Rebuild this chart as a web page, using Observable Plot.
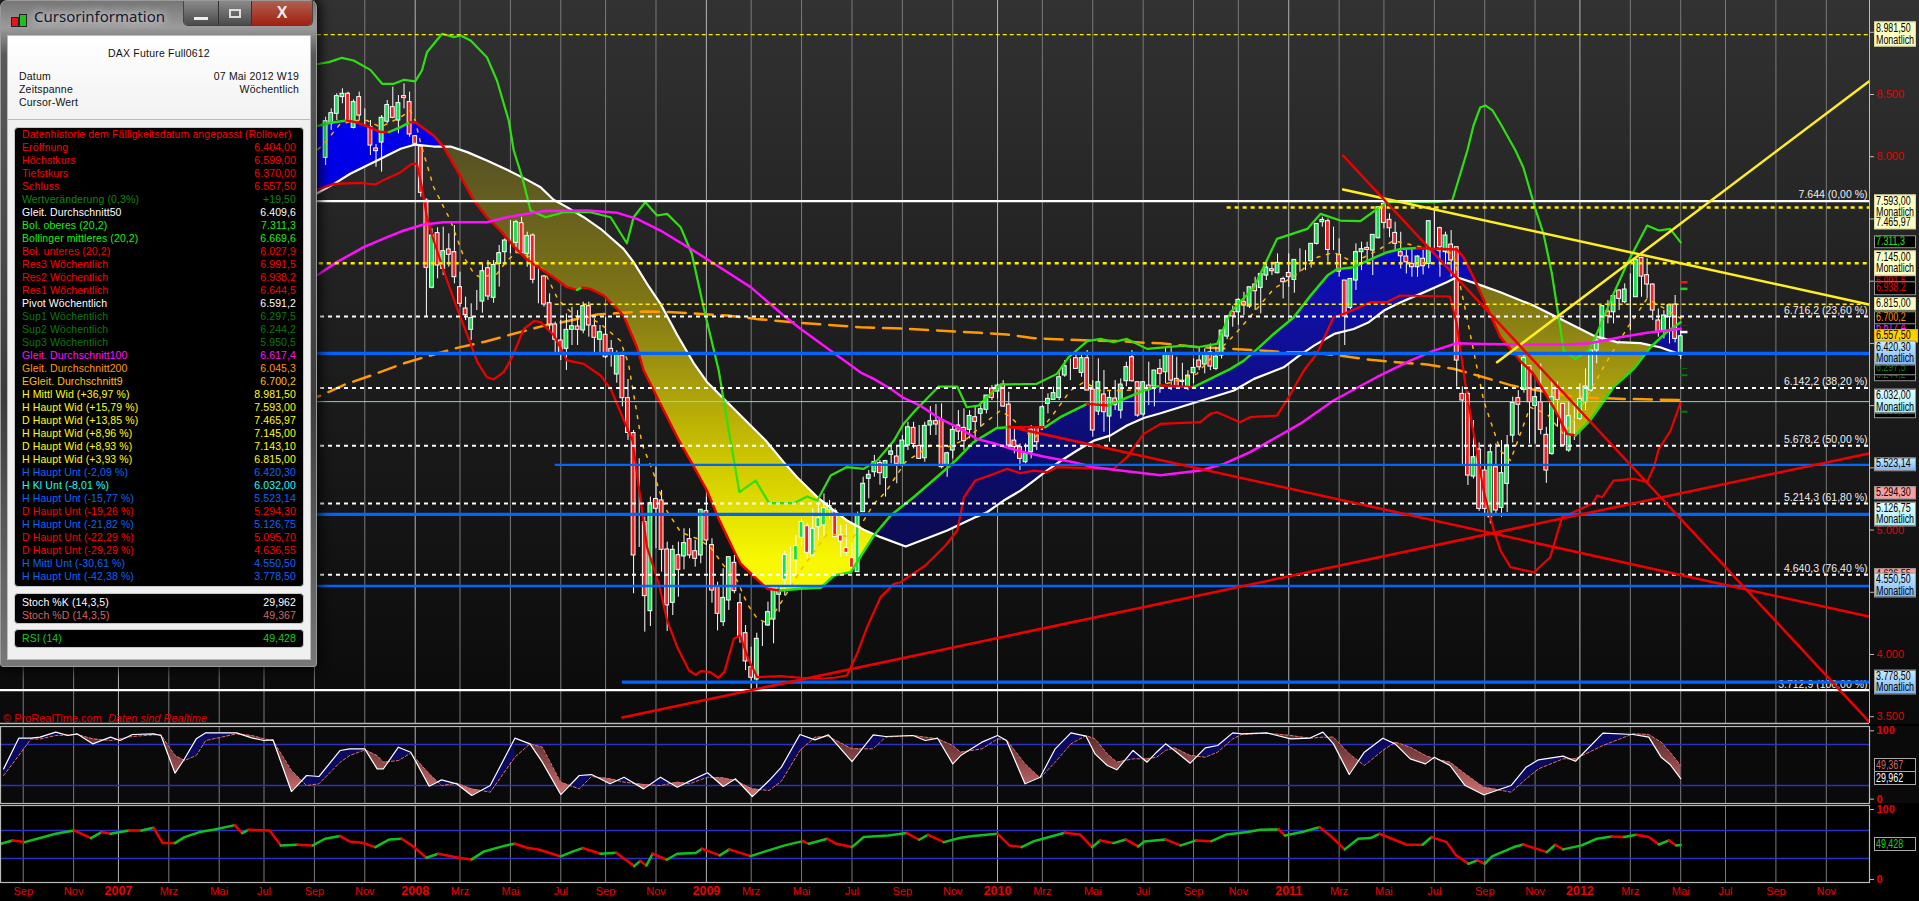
<!DOCTYPE html>
<html lang="de">
<head>
<meta charset="utf-8">
<title>DAX Future Full0612</title>
<script src="https://cdn.jsdelivr.net/npm/d3@7"></script>
<script src="https://cdn.jsdelivr.net/npm/@observablehq/plot@0.6"></script>
<style>
html,body{margin:0;padding:0;background:#000;width:1919px;height:901px;overflow:hidden;font-family:"Liberation Sans",Arial,sans-serif}
.panel{position:absolute;left:0}
.panel svg{display:block}
#win{position:absolute;left:0;top:0;width:317px;height:667px;border-radius:7px 7px 3px 3px;box-shadow:0 0 12px 3px rgba(0,0,0,.85);
 background:linear-gradient(180deg,#777 0,#9b9b9b 4%,#5a5a5a 8%,#3c3c3c 60%,#777 100%);border:1px solid #9a9a9a;box-sizing:border-box}
#win .title{position:absolute;left:33px;top:5px;font:15px "Noto Sans",sans-serif;color:#151530;text-shadow:0 0 8px #ddd,0 0 8px #ddd}
#win .ic{position:absolute}
#win .btns{position:absolute;left:182px;top:0;width:128px;height:24px;display:flex;border:1px solid #444;border-top:0;border-radius:0 0 5px 5px;overflow:hidden}
#win .btns div{height:24px;display:flex;align-items:center;justify-content:center;border-right:1px solid #333;box-sizing:border-box;color:#eee;font-weight:bold}
#win .body{position:absolute;left:6px;top:34px;width:304px;height:625px;background:#f0f0f0;border:1px solid #bbb;box-sizing:border-box}
#win .head{position:absolute;left:0;top:0;width:100%;height:83px;background:linear-gradient(180deg,#fff,#f2f2f2);border-bottom:1px solid #bbb;font-size:10.5px;color:#111}
#win .head span{position:absolute;white-space:nowrap;line-height:13px;letter-spacing:.2px}
.box{position:absolute;left:6px;width:290px;background:#000;border:1px solid #c8c8c8;border-radius:4px;box-sizing:border-box;padding:0 7px}
.row{display:flex;justify-content:space-between;height:13px;line-height:13px;font-size:10.5px;white-space:nowrap;letter-spacing:.1px}
.tag{position:absolute;left:1874px;width:42px;box-sizing:border-box;font:12px/11.5px "Liberation Sans",sans-serif;padding:0 1px;white-space:nowrap;border:1px solid #999;transform:translateY(-50%);overflow:hidden}
.tag span{display:block;transform:scaleX(.74);transform-origin:0 50%}
#pr{position:absolute;left:3px;top:712px;font-size:11px;color:#e00000;white-space:nowrap}
</style>
</head>
<body>
<div id="charts"></div>
<script>
// ---- time: every bar is one week, counted backwards from the last bar
const lastBar = Date.UTC(2012, 4, 7);
const at = w => new Date(lastBar - w * 7 * 864e5);
const xDomain = [new Date("2006-08-06T14:00Z"), new Date("2012-12-29T00:00Z")];

const monthTicks = [["2006-09-04","Sep"],["2006-11-06","Nov"],["2007-03-05","Mrz"],["2007-05-07","Mai"],["2007-07-02","Jul"],["2007-09-03","Sep"],["2007-11-05","Nov"],
 ["2008-03-03","Mrz"],["2008-05-05","Mai"],["2008-07-07","Jul"],["2008-09-01","Sep"],["2008-11-03","Nov"],
 ["2009-03-02","Mrz"],["2009-05-04","Mai"],["2009-07-06","Jul"],["2009-09-07","Sep"],["2009-11-09","Nov"],
 ["2010-03-01","Mrz"],["2010-05-03","Mai"],["2010-07-05","Jul"],["2010-09-06","Sep"],["2010-11-01","Nov"],
 ["2011-03-07","Mrz"],["2011-05-02","Mai"],["2011-07-04","Jul"],["2011-09-05","Sep"],["2011-11-07","Nov"],
 ["2012-03-05","Mrz"],["2012-05-07","Mai"],["2012-07-02","Jul"],["2012-09-03","Sep"],["2012-11-05","Nov"]];
const yearTicks = [["2007-01-01","2007"],["2008-01-07","2008"],["2009-01-05","2009"],["2010-01-04","2010"],["2011-01-03","2011"],["2012-01-02","2012"]];

// ---- weekly candles: open, high, low, close
const bars2007 = [[7991,8318,7930,8286],[8264,8385,8211,8350],[8345,8506,8291,8487],[8479,8546,8425,8506],[8506,8519,8285,8291],[8232,8457,8224,8439],[8479,8519,8291,8331],[8270,8385,8238,8270],[8238,8291,8010,8090],[8066,8098,7916,8045],[8114,8331,7876,8313],[8281,8452,8264,8415],[8398,8559,8305,8313],[8291,8492,8184,8431],[8487,8586,8385,8471],[8439,8519,8157,8179],[8165,8171,8090,8104]];
const bars2008 = [[8082,8090,7675,7710],[7648,7662,6711,7107],[6947,7421,6938,7367],[7386,7429,7019,7126],[7099,7434,7046,7241],[7255,7380,7113,7212],[7233,7447,6979,7032],[6952,7072,6791,6818],[6780,6872,6684,6727],[6609,6818,6523,6703],[6845,6925,6764,6845],[6836,7139,6743,7080],[7104,7166,6845,6877],[6866,7166,6823,7131],[7139,7287,6952,7225],[7233,7340,7139,7327],[7300,7488,7220,7300],[7308,7488,7220,7474],[7466,7514,7220,7225],[7220,7394,7113,7362],[7367,7380,6979,7011],[7030,7113,6818,7030],[7038,7046,6791,6812],[6823,6898,6590,6652],[6652,6671,6416,6529],[6523,6684,6362,6416],[6456,6737,6282,6609],[6609,6791,6483,6638],[6636,6764,6483,6609],[6604,6831,6577,6799],[6799,6831,6550,6644],[6638,6698,6416,6545],[6529,6644,6416,6590],[6569,6711,6376,6389],[6456,6523,6309,6416],[6250,6440,6180,6420],[6400,6430,5990,6060],[6060,6210,5720,5780],[5780,5800,4488,4796],[4983,5573,4860,4983],[5064,5104,4180,4469],[4348,5265,4225,5216],[5249,5506,4850,5171],[5238,5318,4662,4841],[4844,4903,4185,4394],[4415,4876,4313,4841],[4798,4903,4461,4680],[4788,5010,4680,4895],[4927,5010,4769,4796],[4830,4916,4702,4769],[4796,5163,4729,5163],[5152,5265,4876,4916]];
const bars2009 = [[4879,4930,4413,4514],[4541,4581,4190,4327],[4260,4689,4225,4455],[4434,4782,4354,4782],[4737,4796,4488,4509],[4413,4488,4091,4139],[4171,4233,3871,3944],[3898,4059,3724,3813],[3799,4171,3724,4126],[4131,4260,4064,4131],[4233,4421,4225,4340],[4281,4555,4086,4528],[4480,4560,4340,4540],[4600,4830,4470,4801],[4782,4863,4540,4782],[4756,4956,4635,4871],[4938,5090,4870,5064],[5031,5050,4769,4817],[4796,5171,4782,5010],[5023,5211,4916,5096],[5037,5291,4950,5176],[5163,5238,5082,5192],[5152,5171,4943,4943],[4956,5037,4782,4908],[4855,5045,4788,4817],[4774,4890,4662,4697],[4662,5144,4662,5117],[5144,5425,5144,5372],[5412,5479,5251,5444],[5465,5600,5425,5546],[5538,5560,5360,5457],[5417,5560,5265,5554],[5605,5666,5532,5632],[5591,5680,5372,5532],[5526,5759,5505,5719],[5679,5866,5639,5826],[5821,5866,5652,5692],[5676,5840,5572,5572],[5577,5866,5545,5837],[5840,5992,5760,5875],[5875,6008,5760,5848],[5885,6014,5492,5505],[5518,5625,5424,5617],[5639,5840,5572,5805],[5840,5960,5719,5791],[5821,5974,5639,5714],[5805,5960,5733,5917],[5907,6000,5714,5869],[5934,6001,5826,5971],[5966,6081,5934,6081]];
const bars2010 = [[6137,6161,6041,6062],[6113,6175,6054,6161],[6169,6201,5987,5992],[6008,6108,5666,5679],[5719,5813,5612,5666],[5666,5692,5478,5572],[5545,5692,5532,5612],[5625,5840,5572,5807],[5826,5832,5639,5706],[5821,6000,5800,5987],[6014,6094,5934,6054],[6046,6148,6041,6100],[6062,6282,6041,6228],[6242,6362,6228,6317],[6354,6375,6201,6354],[6381,6430,6295,6295],[6263,6402,6228,6381],[6381,6443,6121,6121],[6129,6201,5746,5800],[5952,6376,5920,6188],[6089,6282,5786,5947],[5912,6121,5706,6062],[6057,6201,5960,6003],[5960,6215,5893,6169],[6196,6349,6152,6309],[6389,6443,6188,6196],[6188,6188,5907,5920],[5928,6188,5907,6188],[6161,6349,6000,6126],[6153,6282,5990,6282],[6295,6370,6100,6255],[6268,6469,6175,6416],[6408,6469,6121,6201],[6215,6389,6150,6148],[6200,6340,6140,6190],[6148,6281,6120,6241],[6260,6375,6175,6303],[6362,6469,6281,6308],[6330,6456,6255,6421],[6429,6496,6281,6314],[6295,6469,6281,6394],[6402,6603,6375,6603],[6555,6724,6530,6716],[6753,6800,6630,6716],[6750,6860,6645,6850],[6831,6911,6724,6804],[6796,6951,6780,6951],[6973,7032,6764,6919],[6946,7072,6737,7058],[7045,7139,7005,7109],[7096,7152,7045,7080],[7064,7219,7058,7147]];
const bars2011 = [[7018,7032,6858,6992],[7066,7219,6951,7032],[7010,7169,6903,7171],[7152,7260,7072,7152],[7160,7246,7085,7160],[7160,7300,7105,7300],[7300,7460,7290,7460],[7474,7514,7434,7492],[7482,7500,7152,7251],[7290,7434,7246,7290],[7211,7340,7032,7077],[7005,7005,6483,6716],[6785,7020,6770,7018],[7005,7300,6925,7233],[7233,7313,7085,7257],[7267,7313,7139,7251],[7246,7370,7045,7372],[7345,7594,7340,7594],[7621,7650,7420,7468],[7493,7541,7350,7425],[7388,7474,7250,7300],[7233,7393,7098,7200],[7198,7246,7058,7152],[7139,7259,7032,7112],[7112,7206,7032,7198],[7180,7250,7050,7120],[7139,7487,7100,7482],[7466,7595,7250,7466],[7426,7434,7032,7273],[7233,7394,7112,7367],[7294,7407,7032,7166],[7273,7273,6148,6362],[6094,6150,5510,6041],[6094,6110,5358,5438],[5430,5880,5410,5585],[5647,5700,5150,5170],[5478,5520,5130,5170],[5103,5690,5050,5625],[5505,5692,5130,5157],[5178,5720,5103,5457],[5371,5760,5140,5680],[5759,6068,5700,6022],[6060,6120,5760,6007],[6126,6411,6100,6383],[6317,6322,5690,6027],[5997,6148,5690,6068],[6027,6335,5765,5805],[5765,5826,5375,5478]];
const bars2012 = [[5612,6201,5600,6068],[6134,6190,5826,6046],[6014,6014,5680,5680],[5639,6027,5625,5915],[5915,6014,5720,5915],[5893,6175,5880,6054],[6027,6295,5960,6153],[6121,6443,6108,6443],[6443,6536,6335,6523],[6536,6800,6523,6799],[6756,6844,6657,6718],[6750,6880,6657,6880],[6925,6930,6764,6858],[6831,6978,6818,6933],[6898,7059,6603,6898],[6871,7180,6870,7171],[7187,7193,6871,7037],[7048,7180,6858,6973],[6973,6978,6684,6764],[6684,6777,6550,6590],[6603,6764,6536,6724],[6710,6807,6496,6807],[6812,6885,6504,6536],[6404,6599,6370,6557.5]];

// ---- moving averages and bands as [weeks before last bar, price]
const ma50 = [[246,7640],[243.2,7715],[240.5,7782],[237.6,7863],[232.8,7970],[228.6,8064],[226,8098],[222.7,8082],[219.7,8082],[216.7,8037],[213.2,7970],[209.6,7895],[206,7814],[203.6,7755],[201.3,7654],[198.9,7595],[195.9,7514],[192.9,7421],[188.8,7260],[187,7153],[184.6,6979],[182.2,6818],[179.2,6568],[176.3,6344],[173.9,6190],[163.4,5720],[160.2,5546],[157.8,5425],[154.2,5265],[151.2,5157],[148.9,5077],[145.9,5002],[142.9,4943],[138.4,4868],[131,4996],[125.7,5108],[123.9,5143],[120.9,5237],[117.9,5317],[115.5,5398],[113.2,5478],[110.8,5553],[107.8,5639],[104.8,5719],[101.9,5759],[98.9,5840],[95.9,5901],[92.9,5939],[79.8,6121],[76.2,6215],[70.9,6308],[68.5,6389],[65.5,6482],[61.9,6576],[58.4,6616],[55.7,6670],[53,6764],[50,6831],[46.5,6898],[41.8,6992],[40,7032],[36.4,6978],[32.2,6911],[26.3,6804],[20.3,6670],[15.6,6563],[11.4,6510],[7.2,6502],[3.7,6469],[0,6409.6]];
const bbMid = [[246,8230],[243.1,8251],[240.5,8278],[238.2,8291],[236.7,8278],[234.6,8246],[232.2,8198],[230.7,8198],[228.6,8238],[226.9,8278],[226,8278],[222.7,8171],[220.9,8077],[218.5,7890],[215.5,7648],[213.2,7514],[210.8,7408],[208.4,7280],[206,7173],[203.6,7100],[201.3,7032],[198.9,6952],[197.1,6930],[196.2,6950],[194.7,6938],[192.3,6884],[188.8,6724],[186.4,6469],[185.2,6282],[178.9,5720],[176.2,5506],[173.9,5318],[171.8,5090],[169.1,4836],[167.9,4729],[165.5,4627],[163.1,4528],[160.8,4514],[157.2,4528],[153.6,4536],[151.2,4635],[148.2,4662],[144.1,4956],[141.1,5117],[137,5264],[132.2,5451],[129.5,5558],[126.3,5706],[122.1,5821],[120,5826],[115.5,5826],[113.5,5826],[110.8,5907],[106,6014],[102.2,6000],[100.1,6041],[95.9,6121],[92.9,6161],[87,6148],[83.4,6228],[80.4,6295],[78,6362],[75.6,6456],[72.7,6576],[69.1,6710],[66.1,6884],[63.1,7045],[61.4,7096],[58.4,7112],[54.8,7187],[52.4,7233],[50,7259],[47.1,7267],[44.1,7260],[40,7255],[38.8,7193],[37,7032],[34.6,6791],[32.2,6550],[28.7,6362],[26.3,6255],[22.7,5987],[20.3,5773],[18.8,5760],[16.2,5880],[12,6148],[8.4,6295],[5.4,6469],[2.5,6590],[0,6669.6]];
const bbUpper = [[246,8740],[243.1,8747],[241.4,8760],[239.1,8795],[237,8773],[234,8698],[231.9,8586],[229.8,8586],[228,8618],[226,8605],[224.8,8693],[223.9,8840],[221.2,8988],[219.1,8961],[217.9,8974],[216.1,8934],[213.2,8800],[211.4,8613],[209.3,8291],[208.4,8050],[206.9,7836],[205.4,7568],[202.7,7514],[199.5,7554],[194.7,7554],[191.1,7514],[188.2,7305],[187,7514],[184.9,7635],[182.8,7528],[181,7541],[178.6,7434],[176.6,7220],[174.5,6791],[171.8,6282],[169.7,5720],[168.1,5305],[165.2,5398],[162.8,5216],[158.4,5216],[156,5270],[154.2,5238],[151.8,5439],[148.9,5506],[145.9,5492],[143.5,5560],[140.5,5720],[138.8,5853],[136.7,5960],[132.5,6153],[129.2,6153],[127.5,5987],[125.4,6000],[121.5,6169],[115,6175],[111.4,6255],[109.3,6389],[106,6518],[103.6,6536],[101.3,6510],[98.9,6536],[95.3,6456],[88.7,6482],[86.3,6469],[82.8,6496],[80.4,6750],[76.2,6951],[72.1,7340],[66.7,7420],[64.3,7541],[60.8,7487],[57.2,7482],[54.2,7580],[52.4,7635],[50.1,7640],[44.1,7635],[40.8,7648],[38.1,8050],[37,8251],[35.8,8396],[34.9,8412],[33.6,8372],[32.2,8267],[29.5,8050],[28.1,7914],[26,7587],[24.5,7380],[23,7059],[21.8,6710],[20.9,6443],[18.8,6376],[16.4,6443],[15,6577],[12,6898],[9.6,7139],[6,7447],[3.9,7407],[1.9,7420],[0,7311.3]];
const bbLower = [[246,7700],[243.1,7742],[240.5,7782],[235.8,7790],[233.1,7777],[231.6,7814],[228.6,7876],[226.6,7943],[225.7,7943],[224.8,7755],[223.9,7514],[222.7,7327],[220.3,7005],[218.5,6780],[216.1,6497],[214.9,6349],[213.2,6229],[212,6210],[210.2,6269],[208.7,6389],[206.6,6617],[204.8,6679],[203.6,6671],[201.2,6564],[198.9,6363],[195.9,6336],[192.9,6242],[191.1,6135],[187.2,5720],[184.6,4863],[182.5,4568],[181,4273],[179.2,4059],[177.1,3871],[175.9,3837],[175,3866],[173.3,3858],[171.9,3813],[170.8,3858],[169.1,4126],[168,4153],[166.4,3952],[164.9,3818],[160.8,3826],[157.2,3813],[153.6,3805],[151.2,3813],[148.9,3831],[147.1,4005],[145.3,4220],[142.9,4461],[140.5,4568],[139.3,4581],[134.9,4715],[131.3,4876],[129.2,4996],[128,5264],[126,5398],[122.7,5451],[120.3,5492],[117.9,5457],[115.5,5478],[113.2,5465],[111.4,5505],[101.3,5491],[98.9,5585],[95.9,5773],[92.9,5853],[85.8,5867],[84,5934],[82.8,5947],[78.7,5867],[76.9,5907],[72.1,5920],[70,6068],[67.3,6282],[65,6416],[62,6710],[60.2,6737],[55.4,6831],[52.5,6831],[50.1,6885],[41.2,6877],[40,6657],[38.2,6094],[35.2,5317],[33.4,5000],[32.2,4836],[30.4,4702],[26.2,4661],[23.3,4782],[21.2,5103],[18.5,5157],[15.8,5211],[14.9,5278],[14,5264],[12,5398],[8.4,5412],[6,5385],[4.8,5505],[3.9,5653],[1.8,5800],[0,6027.9]];
const ma100 = [[246,6990],[243.1,7059],[240,7153],[235.2,7273],[231,7354],[228,7407],[224.5,7455],[220.9,7474],[213.2,7474],[209.6,7514],[205.4,7546],[203,7563],[195.3,7568],[189.9,7549],[186.4,7501],[182.2,7407],[176.3,7246],[172.1,7126],[166.1,6952],[160.2,6724],[157.2,6617],[146.5,6268],[144.1,6215],[141.1,6135],[138.8,6062],[135.8,6000],[132.2,5893],[128.6,5813],[125.7,5733],[122.7,5698],[118.5,5639],[113.8,5591],[108.4,5545],[104.8,5505],[100.1,5478],[95.9,5457],[92.9,5440],[85.8,5478],[81.6,5532],[76.9,5626],[68,5853],[62,6041],[54.3,6228],[48.3,6362],[44.1,6442],[40,6501],[35.2,6496],[26.3,6491],[20.3,6491],[16.2,6501],[10.8,6550],[6,6585],[0,6617.4]];
const ma200 = [[246,6030],[242.9,6081],[238.5,6170],[233.4,6250],[228.3,6336],[223.3,6403],[218.5,6464],[213.4,6515],[208.4,6577],[203.3,6639],[198.3,6684],[193.5,6732],[190.2,6742],[185.2,6756],[180.1,6751],[170.3,6724],[165.2,6697],[157.2,6665],[146.5,6630],[140.5,6622],[135.2,6609],[130.4,6598],[125.1,6585],[120.3,6571],[115.5,6542],[110.2,6531],[105.4,6523],[100.1,6518],[95.3,6504],[92.9,6501],[85.8,6469],[80.4,6456],[75.1,6443],[70.3,6429],[66.2,6429],[60.8,6402],[55.4,6368],[50.7,6349],[45.3,6330],[40.6,6296],[35.2,6228],[30.1,6161],[25.4,6121],[20.3,6081],[15.6,6062],[10.2,6054],[5.1,6049],[0,6045.3]];
const ema9 = [[246,7950],[242.3,8103],[239.4,8264],[236.4,8291],[234.6,8291],[232.2,8238],[228.6,8318],[226.9,8371],[226,8291],[225,8104],[222.7,7755],[219.7,7488],[217.3,7193],[215.5,7059],[214.4,7032],[211.4,7059],[209.6,7166],[207.8,7233],[205.4,7193],[203,7086],[200.7,6871],[199.5,6804],[197.1,6711],[195,6711],[192.9,6657],[189.4,6523],[187.9,6336],[185.5,5693],[183.4,5452],[181.3,5171],[178.6,4983],[175.6,4930],[173.3,4863],[170.9,4715],[168.5,4595],[166.7,4407],[164.9,4287],[163.1,4252],[160.8,4407],[157.2,4675],[152.4,4970],[147.7,4943],[144.1,5211],[142,5304],[138.5,5545],[134,5679],[131,5666],[127.5,5733],[124.5,5853],[121.5,5960],[119.7,5907],[115.5,5733],[112,5934],[109,6121],[106.6,6188],[103.6,6121],[99.5,6121],[95.9,6134],[92.9,6161],[86.4,6255],[84.6,6349],[79.8,6563],[76.2,6751],[72.7,6938],[68.5,7058],[64.9,7192],[62,7232],[58.4,7152],[54.2,7246],[51.3,7326],[48.9,7300],[40.6,7220],[38.8,6845],[35.2,6041],[32.2,5639],[30.4,5559],[26.9,5987],[23.9,5934],[20.9,5770],[18.8,5900],[13.8,6309],[9.6,6620],[6,6860],[2.5,6770],[0,6700.2]];

// ---- horizontal levels
const fibLevels = [[7644,"7.644 (0,00 %)"],[6716.2,"6.716,2 (23,60 %)"],[6142.2,"6.142,2 (38,20 %)"],[5678.2,"5.678,2 (50,00 %)"],[5214.3,"5.214,3 (61,80 %)"],[4640.3,"4.640,3 (76,40 %)"],[3712.9,"3.712,9 (100,00 %)"]];
const fibDotted = [6716.2,6142.2,5678.2,5214.3,4640.3];
const yellowThick = [[7593,81],[7145,246]];
const yellowThin = [[8981.5,246],[6815,201]];
const blueThick = [[6420.3,246],[5126.75,246],[3778.5,189]];
const blueThin = [[5523.14,201],[4550.5,246]];
const cyanLevel = [6032];
const pivotMarks = [[6991.5,"#ff1010",2.5],[6938.2,"#20d020",2.5],[6644.5,"#b00000",1],[6591.2,"#ffffff",2.5],[6297.5,"#0a6a0a",1],[6244.2,"#0a7a0a",2],[5950.5,"#0a7a0a",2]];

// ---- trend lines
const yellowUp = [[32.8,6349],[-33.6,8605]];
const yellowDown = [[60.3,7737],[-33.6,6813]];
const redSteep = [[60.3,8010],[-33.6,3462]];
const redFalling = [[120,5832],[-33.6,4305]];
const redRising = [[189,3494],[-33.6,5615]];

// ---- stochastic, aligned lists
const stochWeeks = [299.5,296.8,294.6,293,290.2,288,286.4,283.6,280.4,278.7,276.5,272.7,271.4,268.9,267.2,265.1,263.4,257.9,255.2,253,251.4,248.1,245.4,243.2,239.4,237.7,235,232.8,231.7,229,226.8,223.5,221.3,218.6,215.9,212.6,208.2,205.5,203.3,200,196.7,194.5,191.2,188.7,185.2,182.2,179.2,177,173.8,171,168.8,165.8,162.8,160.6,157.3,154.6,152.2,148,144.2,142,137.1,134.9,132.7,130,128.6,124.8,122,120.4,117.1,114.4,111.7,108.9,106.2,104.6,102.4,100.7,97.8,95.3,93.6,92,90.4,87.6,84.9,82.7,80,78.4,74,69.6,66.3,63.9,62,59.2,56.5,53.2,51,48.3,45.6,44,41.2,38.5,35.2,30.3,27.6,25.4,21,18.8,13.9,8.5,5.7,3.5,1.9,0];
const stochK = [44.3,89.2,89.2,90.7,98,93.1,95.6,80.9,90.7,85.8,94.6,95.6,93.1,38,59,88.2,97,97,89.7,85.8,86.8,11.1,34.6,33.1,71.2,73.6,73.6,44.3,44.3,76,68.7,18.9,28.2,22.4,5.3,19.9,89.2,80.9,54.1,6.7,34.6,36,22.4,32.1,15,32.1,17.5,26.3,38.5,18.5,29.7,3.8,27.2,46.8,94.6,86.8,94.1,55,94.1,91.7,93.1,85.8,89.2,51.6,63.8,83.4,93.1,85.8,22.4,32.1,73.6,97,92.1,66.3,49.2,42.9,71.2,54.1,68.7,80.9,71.2,52.6,75.1,78.5,97,95.6,97,88.2,89.2,98,80.9,36,68.7,89.2,80.9,59,51.6,61.4,49.2,19.9,6.3,19.9,46.8,57.5,62.9,55.5,96.5,94.6,90.7,61.4,50.7,29.962];
const stochD = [34.6,63.8,88.2,88,93.1,94,94.6,88.2,85.8,88.2,91.7,94.1,94.1,63.8,56.5,63.8,85.8,95.6,93.1,88.2,85.8,41.9,19.9,22.4,54.1,63.8,72.1,63.8,54.1,56.5,67.3,37,19.9,23.3,15,10.2,61.4,80.9,76,24.8,15,33.1,29.7,24.8,21.4,19.9,24.8,22.4,32.1,31.1,27.2,15,12.6,26.3,71.2,90.7,91.7,73.6,73.6,90.7,93.1,90.7,88.2,78.5,68.7,73.6,88.2,86.8,51.6,31.1,54.1,80.9,93.1,88.2,66.3,54.1,59,59,61.4,71.2,75.1,63.8,61.4,68.7,88.2,94.6,96.5,93.1,89.2,90.7,90.7,66.3,49.2,71.2,83.4,76,63.8,59,54.1,37,17.5,10.2,29.7,44.3,59,59,78.5,95.6,94.6,83.4,68.7,49.367];

// ---- RSI
const rsiWeeks = [300,297.9,295.7,293.5,290.2,286.9,283.9,282,280.4,277.1,274.9,272.7,271.1,268.9,267.2,264.5,261.8,258.2,256.9,255.8,252,250,247,244.3,242.1,239.4,237.7,235.5,233.1,230.6,228.4,226.2,224,221.9,218,215.9,213.7,209.8,208.2,206,203.8,200,197.8,196.1,192.9,190.1,186.9,185.8,184.7,183.6,181.1,179.2,175.9,174.8,171.6,169.9,166.1,163.9,160,156.8,155.7,152.4,150.8,148,145.9,141.5,138.2,136,134.4,131.6,128.6,126.4,122,119.9,117.7,115.5,113.9,110,107.3,105.1,103.7,101.3,99.1,96.9,95.8,92,89.3,86.5,83.8,81.1,77.3,75.1,71.8,70.7,67.4,64.5,62.5,60,57.6,55.4,53.8,48.9,46.1,44.5,41.8,40.1,37.9,36.3,35,33.6,29.8,28.1,23.9,22.4,21,17.7,15,12.3,10.1,7.9,5.7,3.9,2.1,0.8,0];
const rsiValues = [51,55.8,53.4,58.2,65.3,70.1,59.1,67.7,65.3,70.1,70.1,73.9,52,52,60.6,67.7,71.5,77.7,66.3,71,70.1,48.7,49.6,48.7,58.2,62,54.4,52.5,46.3,57.2,58.2,46.3,31,36.8,30.6,28.7,40.1,48.7,51,45.3,42.5,32.9,40.1,44.9,36.8,38.2,19.1,26.3,20.1,36.8,28.2,36.8,37.7,43.9,34.4,43,33.4,39.1,48.7,54.8,51,58.2,51,46.3,60.6,62.9,66.3,56.8,63.9,53.4,59.6,62,65.3,48.7,46.3,54.8,58.2,66.7,64.4,46.3,55.8,52,57.2,47.2,54.4,57.2,48.7,55.8,54.8,64.4,67.7,71,71.5,62.9,68.2,74.8,62,43,58.2,59.1,65.3,49.6,49.6,60.6,53.4,34.4,22.5,27.2,22.5,33.4,46.3,50,39.1,49.6,43,48.7,58.2,61.5,60.6,63.9,60.6,50,55.8,48.7,49.428];

// ---- price tags on the right axis
const tagValues = [8981.5,7593,7465.97,7311.3,6991.5,7145,6938.2,6815,6617.4,6700.2,6557.5,6244.2,6297.5,6420.3,5950.5,6032,5523.14,5294.3,5126.75,4636.55,4550.5,3778.5];
const tagTexts = ["8.981,50","7.593,00","7.465,97","7.311,3","6.991,5","7.145,00","6.938,2","6.815,00","6.617,4","6.700,2","6.557,50","6.244,2","6.297,5","6.420,30","5.950,5","6.032,00","5.523,14","5.294,30","5.126,75","4.636,55","4.550,50","3.778,50"];
const tagMonthly = [1,1,0,0,0,1,0,0,0,0,0,0,0,1,0,1,0,0,1,0,1,1];
const tagKinds = ["y","y","y","k","k","y","k","y","k","k","g","k","k","b","k","c","b","p","c","p","b","b"];
const tagInk = ["#000","#000","#000","#30e020","#e80000","#000","#f00000","#000","#ff20ff","#ff9900","#000","#0a7a0a","#0a7a0a","#000","#0a7a0a","#000","#000","#000","#000","#000","#000","#000"];

// ---- cursor window
const infoLabels = ["Datenhistorie dem Fälligkeitsdatum angepasst (Rollover)","Eröffnung","Höchstkurs","Tiefstkurs","Schluss","Wertveränderung (0,3%)","Gleit. Durchschnitt50","Bol. oberes (20,2)","Bollinger mittleres (20,2)","Bol. unteres (20,2)","Res3 Wöchentlich","Res2 Wöchentlich","Res1 Wöchentlich","Pivot Wöchentlich","Sup1 Wöchentlich","Sup2 Wöchentlich","Sup3 Wöchentlich","Gleit. Durchschnitt100","Gleit. Durchschnitt200","EGleit. Durchschnitt9","H Mittl Wid (+36,97 %)","H Haupt Wid (+15,79 %)","D Haupt Wid (+13,85 %)","H Haupt Wid (+8,96 %)","D Haupt Wid (+8,93 %)","H Haupt Wid (+3,93 %)","H Haupt Unt (-2,09 %)","H Kl Unt (-8,01 %)","H Haupt Unt (-15,77 %)","D Haupt Unt (-19,26 %)","H Haupt Unt (-21,82 %)","D Haupt Unt (-22,29 %)","D Haupt Unt (-29,29 %)","H Mittl Unt (-30,61 %)","H Haupt Unt (-42,38 %)"];
const infoValues = ["","6.404,00","6.599,00","6.370,00","6.557,50","+19,50","6.409,6","7.311,3","6.669,6","6.027,9","6.991,5","6.938,2","6.644,5","6.591,2","6.297,5","6.244,2","5.950,5","6.617,4","6.045,3","6.700,2","8.981,50","7.593,00","7.465,97","7.145,00","7.143,10","6.815,00","6.420,30","6.032,00","5.523,14","5.294,30","5.126,75","5.095,70","4.636,55","4.550,50","3.778,50"];
const infoColors = ["#f00","#f00","#f00","#f00","#f00","#0a8a0a","#fff","#10f010","#10f010","#f00","#f00","#f00","#f00","#fff","#0a7a0a","#0a7a0a","#0a7a0a","#ff10ff","#ff9900","#ffc000","#ff0","#ff0","#ff0","#ff0","#ff0","#ff0","#0a64ff","#1ff","#0a64ff","#f00","#0a64ff","#f00","#f00","#0a64ff","#0a64ff"];

// ---------- build
const RED = "#ee0000", LIME = "#2fe010", BLUE = "#0064ff";
const pt = {x: d => at(d[0]), y: d => d[1]};
const deutsch = d3.formatLocale({decimal: ",", thousands: ".", grouping: [3], currency: ["", ""]}).format(",");
const candles = [].concat(bars2007, bars2008, bars2009, bars2010, bars2011, bars2012)
  .map(([o, h, l, c], i, all) => ({w: all.length - 1 - i, o, h, l, c}));
const tickDates = monthTicks.map(d => new Date(d[0] + "T00:00Z"));
const yearDates = yearTicks.map(d => new Date(d[0] + "T00:00Z"));

function splitBand(ws, a, b) {
  // rows for filled bands between two aligned lists, split where they cross
  const rows = []; let seg = 0;
  for (let i = 0; i < ws.length; i++) {
    if (i > 0 && (a[i] - b[i]) * (a[i - 1] - b[i - 1]) < 0) {
      const t = (a[i - 1] - b[i - 1]) / ((a[i - 1] - b[i - 1]) - (a[i] - b[i]));
      const w = ws[i - 1] + t * (ws[i] - ws[i - 1]), v = a[i - 1] + t * (a[i] - a[i - 1]);
      rows.push({w, y1: v, y2: v, seg, up: a[i - 1] > b[i - 1]}); seg++;
      rows.push({w, y1: v, y2: v, seg, up: a[i] > b[i]});
    }
    rows.push({w: ws[i], y1: a[i], y2: b[i], seg, up: a[i] > b[i]});
  }
  return rows;
}
function sharedGrid(s1, s2) {
  const f1 = d3.scaleLinear(s1.map(d => d[0]), s1.map(d => d[1]));
  const f2 = d3.scaleLinear(s2.map(d => d[0]), s2.map(d => d[1]));
  const ws = d3.range(246, -0.01, -0.25);
  return [ws, ws.map(f1), ws.map(f2)];
}
const [gw, gMid, gMa] = sharedGrid(bbMid, ma50);
const cloud = splitBand(gw, gMid, gMa);
const stochBand = splitBand(stochWeeks, stochK, stochD);
const stochRows = stochWeeks.map((w, i) => [w, stochK[i], stochD[i]]);

function trendColored(rows, up, down) {
  return rows.map((d, i) => {
    const next = rows[i + 1] || d, prev = rows[i - 1] || d;
    const rising = i < rows.length - 1 ? next[1] > d[1] : d[1] > prev[1];
    return {w: d[0], v: d[1], c: rising ? up : down};
  });
}
function gradient(id, stops, y2) {
  return () => {
    const defs = d3.create("svg:defs");
    const g = defs.append("linearGradient").attr("id", id).attr("gradientUnits", "userSpaceOnUse")
      .attr("x1", 0).attr("x2", 0).attr("y1", 0).attr("y2", y2);
    stops.forEach(([o, c]) => g.append("stop").attr("offset", o).attr("stop-color", c));
    return defs.node();
  };
}
function hlines(rows, o) {
  return Plot.ruleY(rows, {y: d => d[0], x1: d => at(d[1]), x2: xDomain[1], ...o});
}
function grid() {
  return [
    Plot.ruleX(tickDates, {stroke: "#7a7a7a", strokeWidth: 1}),
    Plot.ruleX(yearDates, {stroke: "#b4b4b4", strokeWidth: 1})
  ];
}
const common = {width: 1919, marginLeft: 0, marginRight: 50, marginTop: 0,
  x: {domain: xDomain, type: "utc", axis: null}};

const main = Plot.plot({
  ...common, height: 724, marginBottom: 1,
  y: {domain: [3445.5, 9255.5], axis: null},
  style: {background: "linear-gradient(180deg,#323232 0%,#1f1f1f 45%,#0a0a0a 100%)", fontFamily: "Liberation Sans, sans-serif", overflow: "visible"},
  marks: [
    gradient("blueFill", [[0, "#0000ff"], [0.28, "#0000e0"], [0.42, "#1010a5"], [0.72, "#0b0b58"], [1, "#080840"]], 723),
    gradient("yellowFill", [[0.166, "#4f4a28"], [0.415, "#7f7615"], [0.51, "#a09510"], [0.62, "#c8c000"], [0.775, "#f8f800"]], 723),
    ...grid(),
    Plot.areaY(cloud.filter(d => d.up), {x: d => at(d.w), y1: "y1", y2: "y2", z: "seg", fill: "url(#blueFill)"}),
    Plot.areaY(cloud.filter(d => !d.up), {x: d => at(d.w), y1: "y1", y2: "y2", z: "seg", fill: "url(#yellowFill)"}),
    Plot.line(ma200, {...pt, stroke: "#ff9a00", strokeWidth: 2.5, strokeDasharray: "18 9"}),
    Plot.ruleX(candles, {x: d => at(d.w), y1: "l", y2: "h", stroke: "#fff", strokeWidth: 1}),
    Plot.rect(candles, {
      x1: d => new Date(+at(d.w) - 2.4 * 864e5), x2: d => new Date(+at(d.w) + 2.4 * 864e5),
      y1: "o", y2: "c", fill: d => d.c >= d.o ? "#14e050" : "#f22222", stroke: "#fff", strokeWidth: 1
    }),
    Plot.line(ema9, {...pt, stroke: "#ffb800", strokeWidth: 1.5, strokeDasharray: "3 7"}),
    Plot.line(ma50, {...pt, stroke: "#fff", strokeWidth: 2.2}),
    Plot.line(trendColored(bbMid, "#20e010", RED), {x: d => at(d.w), y: "v", stroke: "c", z: null, strokeWidth: 2.5}),
    Plot.line(bbUpper, {...pt, stroke: LIME, strokeWidth: 2.2}),
    Plot.line(bbLower, {...pt, stroke: RED, strokeWidth: 2.2}),
    Plot.line(ma100, {...pt, stroke: "#ff10ff", strokeWidth: 2.5}),
    // levels
    Plot.text(fibLevels, {x: xDomain[1], y: d => d[0], text: d => d[1], textAnchor: "end", dx: -2, dy: -6, fill: "#eee", fontSize: 10.5}),
    Plot.ruleY(fibDotted, {stroke: "#fff", strokeWidth: 2, strokeDasharray: "4 4"}),
    Plot.ruleY([7644, 3712.9], {stroke: "#fff", strokeWidth: 2.3}),
    hlines(yellowThick, {stroke: "#ffee00", strokeWidth: 2.5, strokeDasharray: "4 4"}),
    hlines(yellowThin, {stroke: "#ffee00", strokeWidth: 1.4, strokeDasharray: "4 3"}),
    hlines(blueThick, {stroke: BLUE, strokeWidth: 3.2}),
    hlines(blueThin, {stroke: BLUE, strokeWidth: 2.3}),
    Plot.ruleY(cyanLevel, {stroke: "#5fe8dc", strokeWidth: 1}),
    Plot.ruleY(pivotMarks, {y: d => d[0], x1: at(0), x2: at(-1.3), stroke: d => d[1], strokeWidth: d => d[2]}),
    // trend lines
    Plot.line(yellowUp, {...pt, stroke: "#ffee20", strokeWidth: 2.5}),
    Plot.line(yellowDown, {...pt, stroke: "#ffee20", strokeWidth: 2.5}),
    Plot.line(redSteep, {...pt, stroke: RED, strokeWidth: 2.5}),
    Plot.line(redFalling, {...pt, stroke: RED, strokeWidth: 2.5}),
    Plot.line(redRising, {...pt, stroke: RED, strokeWidth: 2.5}),
    Plot.ruleX([xDomain[1]], {stroke: "#bbb", strokeWidth: 1}),
    Plot.ruleY([3445.5], {stroke: "#bbb", strokeWidth: 1.5}),
    Plot.axisY({anchor: "right", ticks: d3.range(3500, 9001, 500), tickFormat: deutsch, tickSize: 4, tickPadding: 3, stroke: "#bbb", fill: "#e80000", fontSize: 11, label: null})
  ]
});

const stoch = Plot.plot({
  ...common, height: 77, marginBottom: 0,
  y: {domain: [-6.4, 106.3], axis: null},
  style: {background: "#0a0a0a", fontFamily: "Liberation Sans, sans-serif", overflow: "visible"},
  marks: [
    gradient("brownFill", [[0, "#452525"], [0.45, "#8a4545"], [1, "#e07a7a"]], 77),
    ...grid(),
    Plot.ruleY([20, 80], {stroke: "#2a30c8", strokeWidth: 1.5}),
    Plot.areaY(stochBand.filter(d => d.up), {x: d => at(d.w), y1: "y1", y2: "y2", z: "seg", fill: "#0a0a60"}),
    Plot.areaY(stochBand.filter(d => !d.up), {x: d => at(d.w), y1: "y1", y2: "y2", z: "seg", fill: "url(#brownFill)"}),
    Plot.line(stochRows, {x: d => at(d[0]), y: d => d[2], stroke: "#e07070", strokeWidth: 1, strokeDasharray: "3 2"}),
    Plot.line(stochRows, {x: d => at(d[0]), y: d => d[1], stroke: "#fff", strokeWidth: 1.2}),
    Plot.frame({stroke: "#bbb", strokeWidth: 1.2}),
    Plot.axisY({anchor: "right", ticks: [0, 100], tickSize: 4, tickPadding: 3, stroke: "#bbb", fill: "#e80000", fontSize: 11, fontWeight: "bold", label: null})
  ]
});

const rsiRows = rsiWeeks.map((w, i) => [w, rsiValues[i]]);
const rsi = Plot.plot({
  ...common, height: 96, marginBottom: 19,
  y: {domain: [-4.3, 105.7], axis: null},
  style: {background: "#000", fontFamily: "Liberation Sans, sans-serif", overflow: "visible"},
  marks: [
    ...grid(),
    Plot.ruleY([30, 70], {stroke: "#2a30c8", strokeWidth: 1.5}),
    Plot.line(trendColored(rsiRows, "#10c020", "#f00000"), {x: d => at(d.w), y: "v", stroke: "c", z: null, strokeWidth: 2.5}),
    Plot.frame({stroke: "#bbb", strokeWidth: 1.2}),
    Plot.axisY({anchor: "right", ticks: [0, 100], tickSize: 4, tickPadding: 3, stroke: "#bbb", fill: "#e80000", fontSize: 11, fontWeight: "bold", label: null}),
    Plot.text(monthTicks, {x: d => new Date(d[0] + "T00:00Z"), text: d => d[1], frameAnchor: "bottom", dy: 12, fill: "#ee0000", fontSize: 11}),
    Plot.text(yearTicks, {x: d => new Date(d[0] + "T00:00Z"), text: d => d[1], frameAnchor: "bottom", dy: 12, fill: "#ee0000", fontSize: 12.5, fontWeight: "bold"})
  ]
});

const host = document.getElementById("charts");
[[main, 0], [stoch, 726], [rsi, 805]].forEach(([node, top]) => {
  const d = document.createElement("div");
  d.className = "panel"; d.style.top = top + "px"; d.appendChild(node); host.appendChild(d);
});

// price tags
const tagBg = {y: "#ffffc4", k: "#000", g: "#ffd000", b: "linear-gradient(180deg,#c8ecff,#7fb4f2)", c: "linear-gradient(180deg,#e6ffff,#a6e8f4)", p: "#ff9c9c"};
const yMain = main.scale("y");
tagValues.forEach((v, i) => {
  const t = document.createElement("div");
  t.className = "tag";
  t.style.top = yMain.apply(v) + "px";
  t.style.background = tagBg[tagKinds[i]];
  t.style.color = tagInk[i];
  if (tagKinds[i] === "g") { t.style.width = "44px"; t.style.borderColor = "#e0b000"; }
  if (tagKinds[i] === "y") t.style.borderColor = "#d8d8a0";
  t.innerHTML = `<span>${tagTexts[i]}</span>` + (tagMonthly[i] ? "<span>Monatlich</span>" : "");
  document.body.appendChild(t);
});
function sideTag(plot, top, value, text, color) {
  const t = document.createElement("div");
  t.className = "tag";
  t.style.top = (top + plot.scale("y").apply(value)) + "px";
  t.style.background = "#000"; t.style.color = color; t.style.height = "14px"; t.style.lineHeight = "12px"; t.style.borderColor = "#aaa";
  t.innerHTML = `<span>${text}</span>`;
  document.body.appendChild(t);
}
sideTag(stoch, 726, 49.367, "49,367", "#d06868");
sideTag(stoch, 726, 29.962, "29,962", "#fff");
sideTag(rsi, 805, 49.428, "49,428", "#10d020");

// copyright line
const pr = document.createElement("div");
pr.id = "pr";
pr.innerHTML = '© ProRealTime.com &nbsp;<i>Daten sind Realtime</i>';
document.body.appendChild(pr);

// cursor window
const win = document.createElement("div");
win.id = "win";
const rowHtml = (l, v, c) => `<div class="row" style="color:${c}"><span>${l}</span><span>${v}</span></div>`;
win.innerHTML = `
 <div class="ic" style="left:10px;top:16px;width:6px;height:8px;background:#e8141c;border:1px solid #222"></div>
 <div class="ic" style="left:18px;top:13px;width:6px;height:11px;background:#20c020;border:1px solid #222"></div>
 <div class="title">Cursorinformation</div>
 <div class="btns">
  <div style="width:35px;background:linear-gradient(180deg,#8a8a8a,#4a4a4a)"><span style="display:block;width:14px;height:3px;background:#eee;margin-top:10px"></span></div>
  <div style="width:33px;background:linear-gradient(180deg,#8a8a8a,#4a4a4a)"><span style="display:block;width:12px;height:9px;border:2px solid #ddd;box-sizing:border-box"></span></div>
  <div style="width:60px;background:linear-gradient(180deg,#b06050,#a02010);font-size:16px;border:0">X</div>
 </div>
 <div class="body">
  <div class="head">
   <span style="left:0;width:100%;text-align:center;top:11px">DAX Future Full0612</span>
   <span style="left:11px;top:34px">Datum</span><span style="right:11px;top:34px">07 Mai 2012 W19</span>
   <span style="left:11px;top:47px">Zeitspanne</span><span style="right:11px;top:47px">Wöchentlich</span>
   <span style="left:11px;top:60px">Cursor-Wert</span>
  </div>
  <div class="box" style="top:91px;height:460px">${infoLabels.map((l, i) => rowHtml(l, infoValues[i], infoColors[i])).join("")}</div>
  <div class="box" style="top:557px;height:31px;padding-top:2px">${rowHtml("Stoch %K (14,3,5)", "29,962", "#fff")}${rowHtml("Stoch %D (14,3,5)", "49,367", "#d06868")}</div>
  <div class="box" style="top:593px;height:19px;padding-top:2px">${rowHtml("RSI (14)", "49,428", "#10d010")}</div>
 </div>`;
document.body.appendChild(win);
</script>
</body>
</html>
